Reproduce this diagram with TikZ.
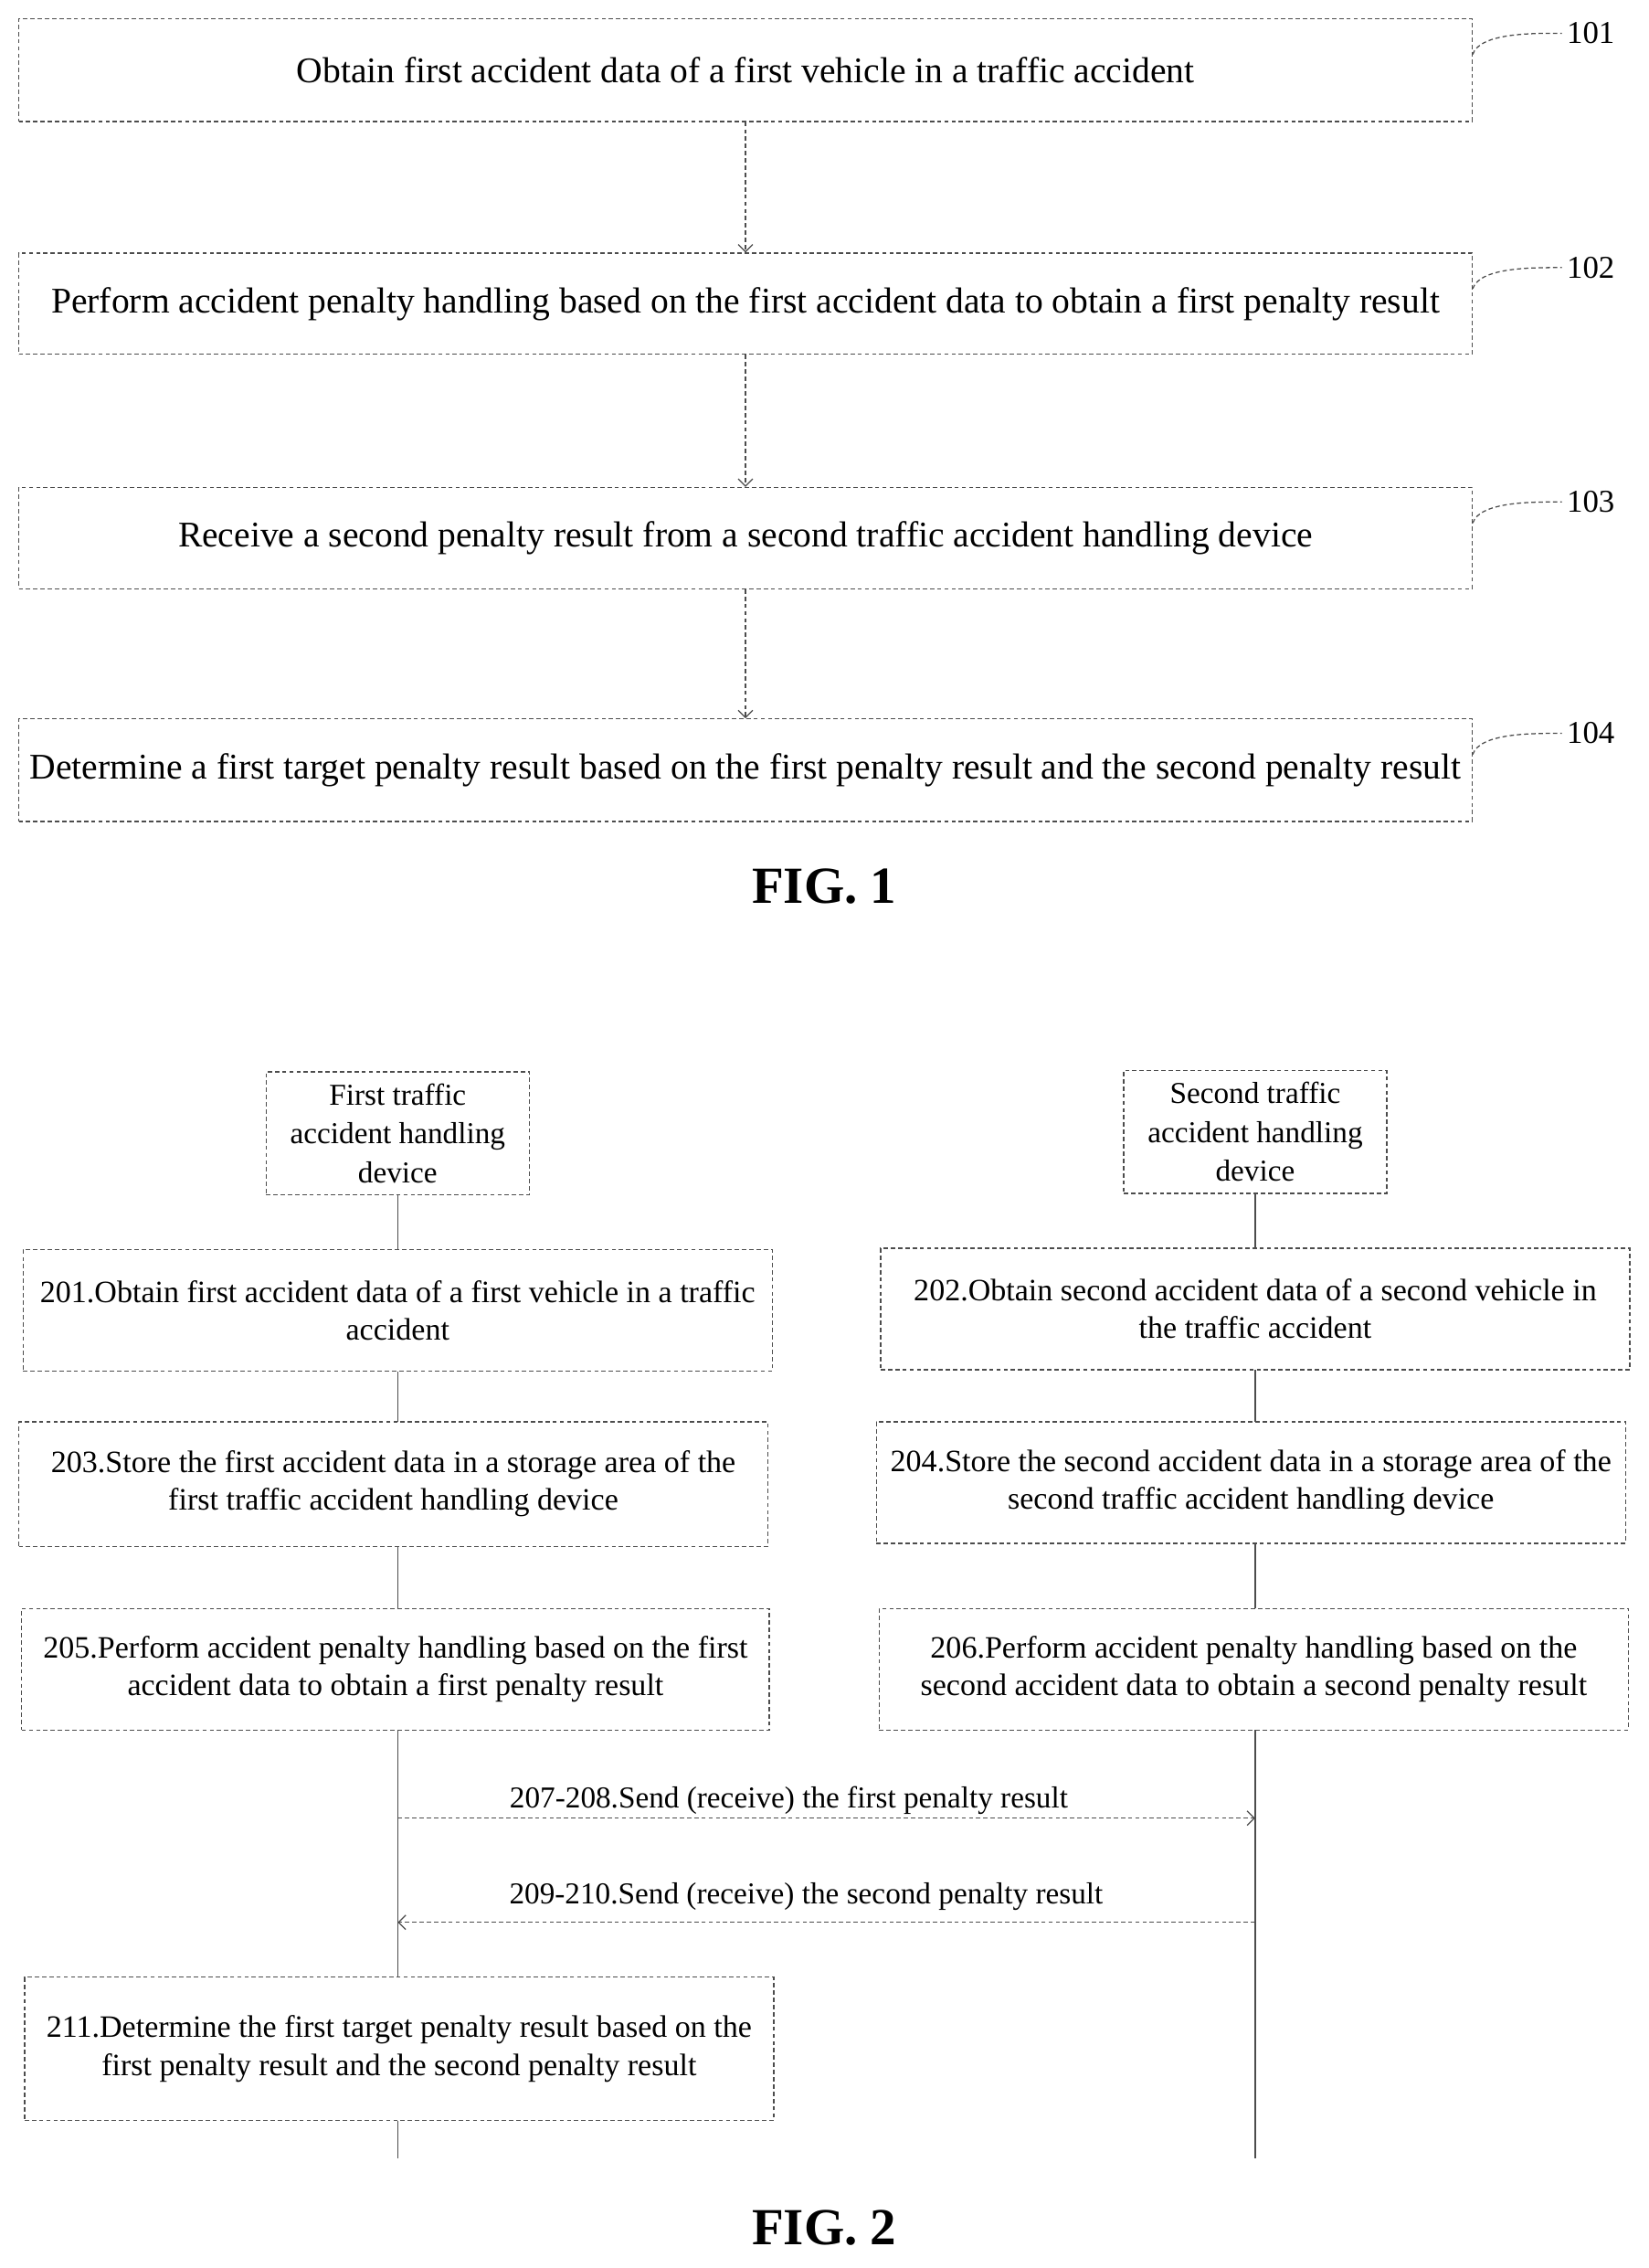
\documentclass[tikz,border=0pt]{standalone}
\usepackage{fontspec}
\setmainfont{Liberation Serif}
\usetikzlibrary{arrows.meta}
\begin{document}
\begin{tikzpicture}[x=1pt,y=-1pt,
 bx/.style={draw=black!70,densely dashed,line width=0.8pt,inner sep=0pt,align=center,font=\fontsize{25}{28}\selectfont},
 bx2/.style={draw=black!70,densely dashed,line width=0.8pt,inner sep=0pt,align=center,font=\fontsize{21.5}{26}\selectfont},
 ar/.style={draw=black!70,densely dashed,line width=0.8pt,-{Straight Barb[length=5pt]}},
 ln/.style={draw=black!70,line width=0.8pt},
 lab/.style={font=\fontsize{22}{24}\selectfont},
 fig/.style={font=\fontsize{36}{40}\selectfont\bfseries}]
\useasboundingbox (0,0) rectangle (1140,1568);
% FIG 1
\node[bx,minimum width=1005pt,minimum height=71pt] (b1) at (515.5,48.5) {Obtain first accident data of a first vehicle in a traffic accident};
\node[bx,minimum width=1005pt,minimum height=70pt] (b2) at (515.5,210) {Perform accident penalty handling based on the first accident data to obtain a first penalty result};
\node[bx,minimum width=1005pt,minimum height=70pt] (b3) at (515.5,372) {Receive a second penalty result from a second traffic accident handling device};
\node[bx,minimum width=1005pt,minimum height=71pt] (b4) at (515.5,532.5) {Determine a first target penalty result based on the first penalty result and the second penalty result};
\draw[ar] (b1) -- (b2);
\draw[ar] (b2) -- (b3);
\draw[ar] (b3) -- (b4);
\foreach \n/\y/\t in {b1/13/101,b2/175/102,b3/337/103,b4/497/104}{
 \node[lab] (l\t) at (1100,\y+10) {\t};
 \draw[draw=black!70,densely dashed,line width=0.8pt] (\n.north east) ++(0,25) .. controls +(5,-15) and +(-20,0) .. (l\t.west);
}
\node[fig] (f1) at (570,613) {FIG. 1};
% FIG 2
\node[bx2,minimum width=182pt,minimum height=85pt,font=\fontsize{21}{27}\selectfont] (h1) at (275,783.5) {First traffic\\accident handling\\device};
\node[bx2,minimum width=182pt,minimum height=85pt,font=\fontsize{21}{27}\selectfont] (h2) at (868,782.5) {Second traffic\\accident handling\\device};
\coordinate (e1) at (275,1492);
\coordinate (e2) at (868,1492);
\draw[ln] (h1.south) -- (e1);
\draw[ln] (h2.south) -- (e2);
\node[bx2,fill=white,minimum width=518pt,minimum height=84pt] (s201) at (275,906) {201.Obtain first accident data of a first vehicle in a traffic\\accident};
\node[bx2,fill=white,minimum width=518pt,minimum height=86pt] (s203) at (272,1026) {203.Store the first accident data in a storage area of the\\first traffic accident handling device};
\node[bx2,fill=white,minimum width=517pt,minimum height=84pt] (s205) at (273.5,1154) {205.Perform accident penalty handling based on the first\\accident data to obtain a first penalty result};
\node[bx2,fill=white,minimum width=518pt,minimum height=99pt] (s211) at (276,1416.5) {211.Determine the first target penalty result based on the\\first penalty result and the second penalty result};
\node[bx2,fill=white,minimum width=518pt,minimum height=84pt] (s202) at (868,905) {202.Obtain second accident data of a second vehicle in\\the traffic accident};
\node[bx2,fill=white,minimum width=518pt,minimum height=84pt] (s204) at (865,1025) {204.Store the second accident data in a storage area of the\\second traffic accident handling device};
\node[bx2,fill=white,minimum width=518pt,minimum height=84pt] (s206) at (867,1154) {206.Perform accident penalty handling based on the\\second accident data to obtain a second penalty result};
\coordinate (a1) at (275,1257); \coordinate (a2) at (868,1257);
\coordinate (c1) at (868,1329); \coordinate (c2) at (275,1329);
\draw[ar] (a1) -- node[above,font=\fontsize{21}{22}\selectfont,inner sep=2pt,xshift=-26pt] (t1) {207-208.Send (receive) the first penalty result} (a2);
\draw[ar] (c1) -- node[above,font=\fontsize{21}{22}\selectfont,inner sep=8pt,xshift=-14pt] (t2) {209-210.Send (receive) the second penalty result} (c2);
\node[fig] (f2) at (570,1540) {FIG. 2};
\end{tikzpicture}
\end{document}
